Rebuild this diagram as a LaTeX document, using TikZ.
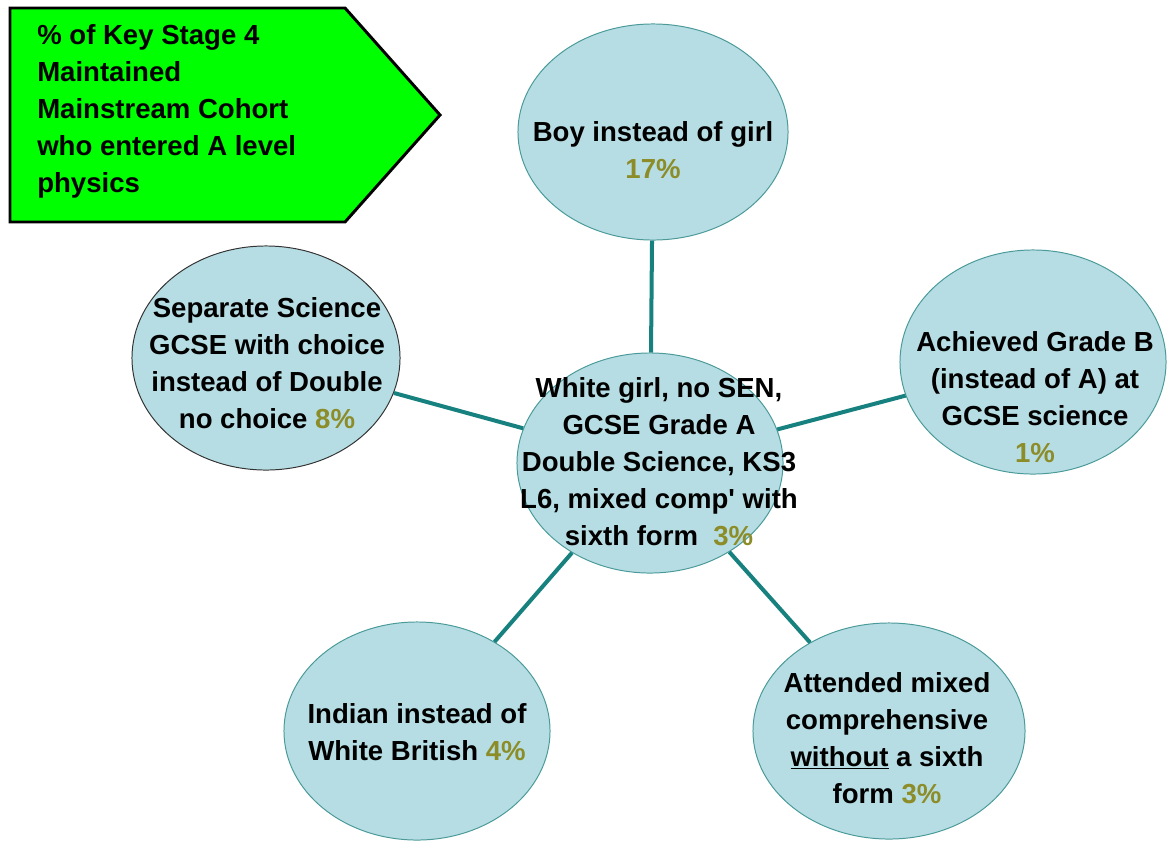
\documentclass[tikz,border=0pt]{standalone}
\usepackage{fontspec}
\setmainfont{Liberation Sans}
\usepackage{xcolor}
\definecolor{flaggreen}{HTML}{00FF00}
\definecolor{bubblefill}{HTML}{B6DDE3}
\definecolor{bubbleedge}{HTML}{4A9A9A}
\definecolor{linkteal}{HTML}{17817F}
\definecolor{pctolive}{HTML}{8C8C28}
\usetikzlibrary{shapes.geometric}
\newcommand{\pct}[1]{\textcolor{pctolive}{#1}}

\begin{document}
\begin{tikzpicture}[
  x=0.025cm, y=-0.025cm,
  every node/.style={font=\bfseries\fontsize{19.6}{26.3}\selectfont},
  bubble/.style={ellipse, draw=bubbleedge, line width=0.7pt, fill=bubblefill,
                 minimum width=6.65cm, minimum height=5.5cm, inner sep=0pt},
  caption/.style={align=center, text=black, inner sep=0pt},
  link/.style={line width=2.85pt, color=linkteal},
  flag/.style={draw=black, line width=2.1pt, fill=flaggreen},
]
  \useasboundingbox (0,0) rectangle (1168,842);

  % Cohort flag
  \draw[flag] (10,8) -- (345,8) -- (440,115) -- (345,222) -- (10,222) -- cycle;
  \node[align=left, anchor=west, inner sep=0pt] (cohort) at (37,111)
    {\% of Key Stage 4\\Maintained\\Mainstream Cohort\\who entered A level\\physics};

  % Bubbles
  \node[bubble] (base) at (650,463) {};
  \node[bubble, minimum width=6.75cm, minimum height=5.4cm] (boy) at (653,132) {};
  \node[bubble, draw=black!80, minimum width=6.7cm, minimum height=5.6cm] (sep) at (266,358) {};
  \node[bubble, minimum height=5.6cm] (grade) at (1033,362) {};
  \node[bubble, minimum height=5.45cm] (indian) at (417,731) {};
  \node[bubble, minimum width=6.8cm, minimum height=5.4cm] (nosixth) at (889,731) {};

  % Links
  \draw[link] (base) -- (boy);
  \draw[link] (base) -- (sep);
  \draw[link] (base) -- (grade);
  \draw[link] (base) -- (indian);
  \draw[link] (base) -- (nosixth);

  % Texts
  \node[caption] (base-t) at (659,462)
    {White girl, no SEN,\\GCSE Grade A\\Double Science, KS3\\L6, mixed comp\textquotesingle{} with\\sixth form\ \ \pct{3\%}};
  \node[caption] (boy-t) at (653,150) {Boy instead of girl\\\pct{17\%}};
  \node[caption] (sep-t) at (267,363)
    {Separate Science\\GCSE with choice\\instead of Double\\no choice \pct{8\%}};
  \node[caption] (grade-t) at (1035,397)
    {Achieved Grade B\\(instead of A) at\\GCSE science\\\pct{1\%}};
  \node[caption] (indian-t) at (417,732) {Indian instead of\\White British \pct{4\%}};
  \node[caption] (nosixth-t) at (887,738)
    {Attended mixed\\comprehensive\\\underline{without} a sixth\\form \pct{3\%}};
\end{tikzpicture}
\end{document}
